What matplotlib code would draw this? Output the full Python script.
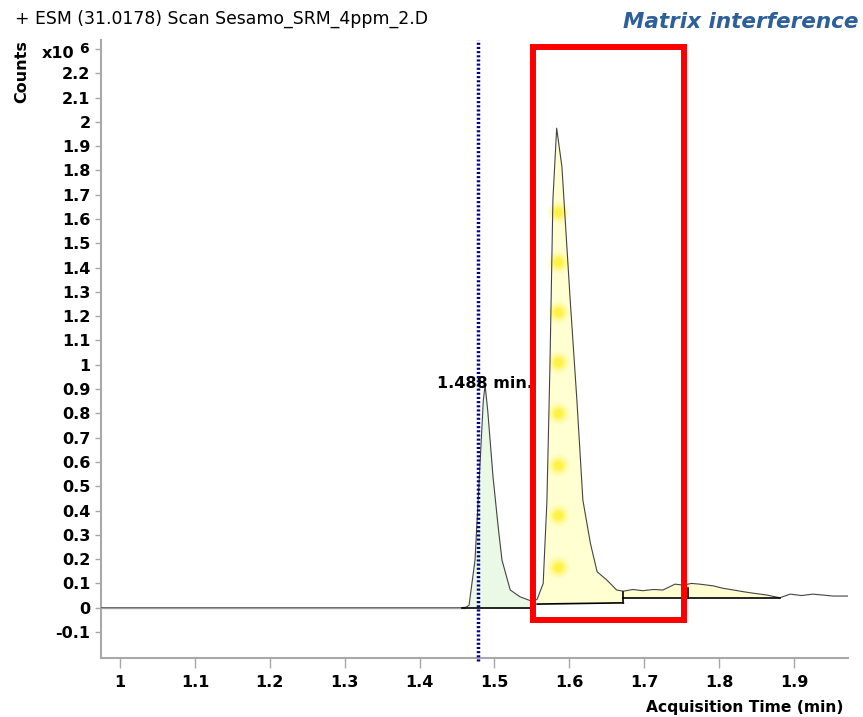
import numpy as np
import matplotlib
matplotlib.use('Agg')
import matplotlib.pyplot as plt

plt.rcParams['font.family'] = ['DejaVu Sans']

# chromatogram trace (time in min, counts in 1e6)
times = np.array([0.975, 1.455, 1.462, 1.466, 1.474, 1.481, 1.485, 1.4874, 1.491, 1.498,
                  1.505, 1.510, 1.521, 1.534, 1.547, 1.552, 1.557, 1.565, 1.570, 1.574,
                  1.578, 1.583, 1.590, 1.601, 1.610, 1.618, 1.628, 1.637, 1.650, 1.663,
                  1.672, 1.685, 1.698, 1.712, 1.725, 1.741, 1.752, 1.763, 1.774, 1.792,
                  1.805, 1.819, 1.832, 1.845, 1.864, 1.881, 1.895, 1.910, 1.925, 1.952, 1.972])
counts = np.array([0.0, 0.0, 0.002, 0.01, 0.196, 0.61, 0.85, 0.917, 0.81, 0.54,
                   0.33, 0.196, 0.073, 0.045, 0.03, 0.026, 0.035, 0.10, 0.44, 0.99,
                   1.68, 1.974, 1.816, 1.27, 0.855, 0.443, 0.266, 0.148, 0.114, 0.073,
                   0.068, 0.075, 0.07, 0.075, 0.073, 0.097, 0.093, 0.10, 0.097, 0.09,
                   0.08, 0.073, 0.066, 0.06, 0.052, 0.041, 0.056, 0.05, 0.056, 0.048, 0.048])

peak_rt = 1.4874
peak_label = '1.488 min.'
marker_rt = 1.4775

# integration baselines: (t_start, y_start, t_end, y_end)
baselines = [(1.457, 0.0, 1.547, 0.0),
             (1.557, 0.015, 1.672, 0.02),
             (1.672, 0.041, 1.881, 0.041)]
drops = [(1.672, 0.018, 0.066), (1.758, 0.041, 0.08)]

# highlight box (min / counts)
box_t = (1.552, 1.753)
box_y = (-0.0506, 2.308)

# yellow glow spots in main peak
glow_t = [1.5848] * 8
glow_y = [1.628, 1.423, 1.217, 1.011, 0.802, 0.588, 0.382, 0.168]

yticks = np.round(np.arange(-0.1, 2.31, 0.1), 1)
xticks = np.round(np.arange(1.0, 1.91, 0.1), 1)

W, H = 863, 717
fig = plt.figure(figsize=(W / 100, H / 100), dpi=100)
ax = fig.add_axes([101 / W, 1 - 658 / H, (848 - 101) / W, (658 - 40) / H])
ax.set_xlim(0.9746, 1.972)
ax.set_ylim(-0.207, 2.337)

# fills
m1 = (times >= 1.462) & (times <= 1.547)
ax.fill_between(times, counts, 0, where=m1, color='#eaf8e6', lw=0, zorder=1)
m2 = (times >= 1.557) & (times <= 1.672)
ax.fill_between(times, counts, 0.018, where=m2, color='#ffffd2', lw=0, zorder=1)
m3 = (times >= 1.672) & (times <= 1.881)
ax.fill_between(times, counts, 0.041, where=m3, color='#ffffd2', lw=0, zorder=1)

for s, a in [(260, 0.10), (160, 0.15), (90, 0.25), (40, 0.4)]:
    ax.scatter(glow_t, glow_y, s=s, color='#ffee00', alpha=a, lw=0, zorder=2)

ax.plot(times, counts, color='#444444', lw=0.8, zorder=3)
ax.plot([0.9746, 1.46], [0, 0], color='#a0a0a0', lw=1, zorder=3)

for t0, y0, t1, y1 in baselines:
    ax.plot([t0, t1], [y0, y1], color='black', lw=1.2, zorder=4)
for t, y0, y1 in drops:
    ax.plot([t, t], [y0, y1], color='black', lw=1.2, zorder=4)

ax.axvline(marker_rt, ymin=-0.005, ymax=1.0, color='#00008b', lw=2.5,
           ls=(0, (0.6, 0.6)), zorder=5, clip_on=False)

ax.text(peak_rt, 0.905, peak_label, ha='center', va='baseline',
        fontsize=11.5, fontweight='bold', zorder=6)

ax.add_patch(plt.Rectangle((box_t[0], box_y[0]), box_t[1] - box_t[0], box_y[1] - box_y[0],
                           fill=False, ec='#ff0000', lw=4.3, zorder=7, clip_on=False))

for sp in ['top', 'right']:
    ax.spines[sp].set_visible(False)
for sp in ['left', 'bottom']:
    ax.spines[sp].set_color('#a8a8a8')
    ax.spines[sp].set_linewidth(1.5)

ax.set_yticks(yticks)
ax.set_yticklabels([('%g' % v if v < 2.25 else '') for v in yticks])
ax.set_xticks(xticks)
ax.set_xticklabels(['%g' % v for v in xticks])
ax.tick_params(axis='y', length=4, width=1, color='#a8a8a8', pad=3.5, labelsize=11.5)
ax.tick_params(axis='x', length=7, width=1, color='#a8a8a8', pad=5, labelsize=11.5)
for lab in ax.get_xticklabels() + ax.get_yticklabels():
    lab.set_fontweight('bold')

fig.text(15 / W, 1 - 24 / H, '+ ESM (31.0178) Scan Sesamo_SRM_4ppm_2.D',
         fontsize=12.4, ha='left', va='baseline')
fig.text(858 / W, 1 - 28 / H, 'Matrix interference', fontsize=15.5, fontweight='bold',
         fontstyle='italic', color='#2d5f9a', ha='right', va='baseline')
fig.text(22 / W, 1 - 72 / H, 'Counts', rotation=90, fontsize=11.5, fontweight='bold',
         ha='center', va='center')
fig.text(42 / W, 1 - 58 / H, 'x10', fontsize=11.5, fontweight='bold', ha='left', va='baseline')
fig.text(79 / W, 1 - 53 / H, '6', fontsize=10, fontweight='bold', ha='left', va='baseline')
fig.text(843 / W, 1 - 712 / H, 'Acquisition Time (min)', fontsize=11.2, fontweight='bold',
         ha='right', va='baseline')

fig.savefig('out.png', dpi=100)
